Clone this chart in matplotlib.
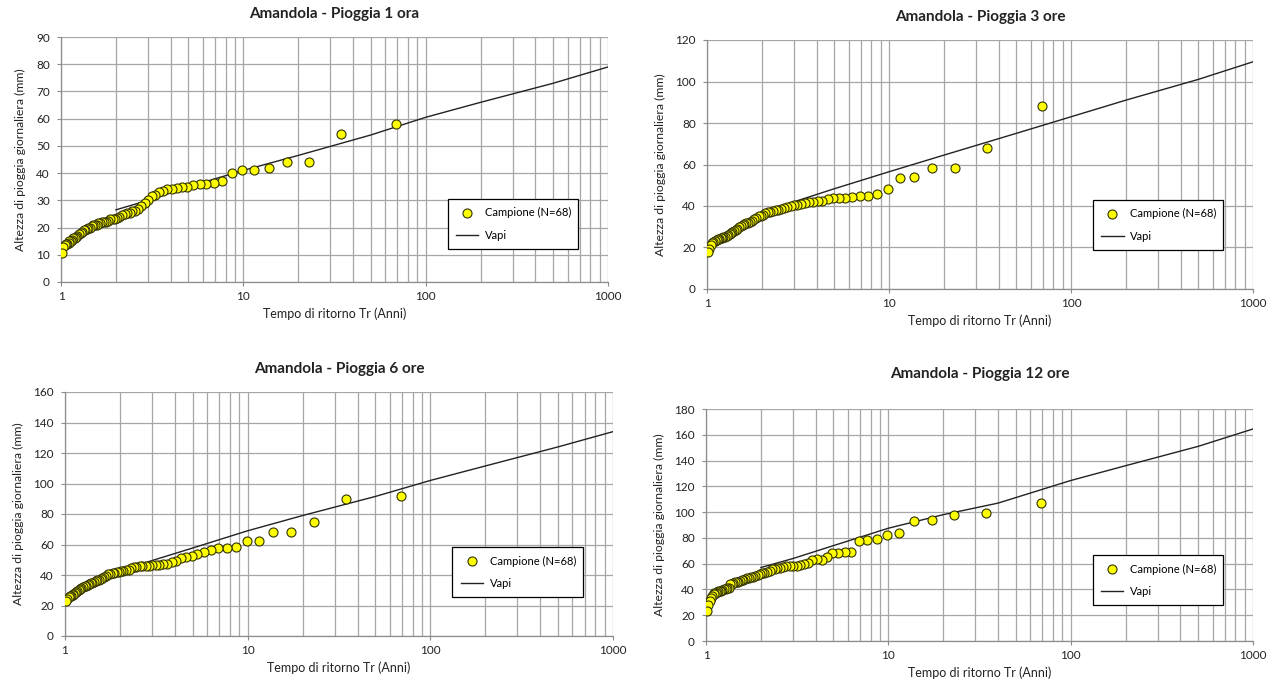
import matplotlib
matplotlib.use("Agg")
import matplotlib.pyplot as plt
from matplotlib.ticker import FixedLocator, FuncFormatter, LogLocator, NullFormatter

plt.rcParams['font.family'] = ['Lato', 'DejaVu Sans']

# Return periods of the 68 ranked samples (years)
tr = [69.0, 34.5, 23.0, 17.25, 13.8, 11.5, 9.86, 8.63, 7.67, 6.9,
      6.27, 5.75, 5.31, 4.93, 4.6, 4.31, 4.06, 3.83, 3.63, 3.45,
      3.29, 3.14, 3.0, 2.88, 2.76, 2.65, 2.56, 2.46, 2.38, 2.3,
      2.23, 2.16, 2.09, 2.03, 1.97, 1.92, 1.86, 1.82, 1.77, 1.73,
      1.68, 1.64, 1.6, 1.57, 1.53, 1.5, 1.47, 1.44, 1.41, 1.38,
      1.35, 1.33, 1.3, 1.28, 1.25, 1.23, 1.21, 1.19, 1.17, 1.15,
      1.13, 1.11, 1.1, 1.08, 1.06, 1.05, 1.03, 1.01]

h1 = [58, 54.5, 44, 44, 42, 41, 41, 40, 37, 36.5,
      36, 36, 35.5, 35, 35, 34.5, 34, 34, 33.5, 33,
      32, 31.5, 30, 29, 28, 27, 26, 26, 25.5, 25.5,
      25, 24.5, 24, 23.5, 23, 23, 23, 22.5, 22, 22,
      22, 21.5, 21.5, 21, 21, 21, 20.5, 20, 20, 19.5,
      19, 19, 18.5, 18, 17.5, 17, 16.5, 16, 16, 15.5,
      15, 15, 14.5, 14, 14, 13.5, 13, 10.5]

h3 = [88, 68, 58.5, 58.5, 54, 53.5, 48, 46, 45, 45,
      44.5, 44, 44, 44, 43.5, 42.5, 42.5, 42, 42, 41.5,
      41, 40.5, 40.5, 40, 39.5, 39, 38.5, 38, 38, 37.5,
      37, 37, 36.5, 35.5, 35, 35, 34, 33.5, 33, 32.5,
      32, 32, 31.5, 31, 30.5, 30, 29, 28.5, 28, 27.5,
      27, 26.5, 26, 25.5, 25, 25, 24.5, 24.5, 24, 24,
      23.5, 23, 23, 22.5, 22, 21, 19.5, 18]

h6 = [91.5, 90, 74.5, 68.5, 68, 62.5, 62.5, 58.5, 58, 58,
      56.5, 55, 53.5, 52.5, 52, 51, 49, 48.5, 47, 47,
      46.5, 46.5, 46.5, 46, 46, 46, 46, 45.5, 45, 44.5,
      43.5, 43, 42.5, 42.5, 42, 42, 41.5, 41, 40.5, 40.5,
      39.5, 38.5, 38, 37.5, 37, 36.5, 36, 35.5, 35, 34.5,
      34, 33.5, 33, 32.5, 32, 31.5, 31, 30, 29.5, 29,
      28, 27.5, 27, 26.5, 26, 25.5, 24.5, 23]

h12 = [107, 99, 98, 94, 93, 83.5, 82.5, 79, 78, 77.5,
       69, 69, 68, 68, 65, 63, 63.5, 63, 60.5, 59.5,
       59, 58.5, 58.5, 58, 58, 57.5, 57, 56.5, 56, 56,
       54, 53.5, 53, 52.5, 52, 51, 50.5, 50, 49.5, 49,
       49, 48, 47.5, 47, 46.5, 46, 46, 45.5, 45, 44.5,
       44, 41.5, 41, 40.5, 40, 39.5, 39, 39, 38.5, 38,
       37.5, 37, 36.5, 35, 33.5, 31, 28, 23]

# VAPI growth curves
vapi_tr = [2, 3, 5, 10, 20, 50, 100, 200, 500, 1000]
vapi1 = [26.5, 30, 35, 41, 46.5, 54, 60.5, 66, 73, 79]
vapi3 = [37.3, 42, 48.3, 56.5, 64.5, 75, 83, 91, 101, 109.5]
vapi6 = [43, 49.5, 57.7, 69, 79, 91.5, 102, 111.5, 124, 134]
vapi12_tr = [2, 3, 5, 10, 20, 40, 100, 200, 500, 1000]
vapi12 = [57, 64, 74, 87.5, 98, 107, 124.5, 136, 151, 164.5]

titles = ["Amandola - Pioggia 1 ora", "Amandola - Pioggia 3 ore",
          "Amandola - Pioggia 6 ore", "Amandola - Pioggia 12 ore"]
ymaxes = [90, 120, 160, 180]
ysteps = [10, 20, 20, 20]

W, H = 1283, 690
fig = plt.figure(figsize=(W / 100, H / 100), dpi=100)

# pixel boxes: left, right, top, bottom
boxes = [(61, 608, 37, 282), (707, 1253, 40, 289),
         (65, 613, 392, 636), (706, 1253, 409, 641)]
legy = [0.135, 0.157, 0.16, 0.155]
tpads = [14, 14, 14, 22]

series = [(h1, vapi_tr, vapi1), (h3, vapi_tr, vapi3),
          (h6, vapi_tr, vapi6), (h12, vapi12_tr, vapi12)]

grid_c = '#a6a6a6'
for i, (l, r, t, b) in enumerate(boxes):
    ax = fig.add_axes([l / W, (H - b) / H, (r - l) / W, (b - t) / H])
    hs, vt, vv = series[i]
    ax.set_xscale('log')
    ax.set_xlim(1, 1000)
    ax.set_ylim(0, ymaxes[i])
    ax.xaxis.set_major_locator(FixedLocator([1, 10, 100, 1000]))
    ax.xaxis.set_minor_locator(LogLocator(base=10, subs=range(2, 10)))
    ax.xaxis.set_major_formatter(FuncFormatter(lambda v, p: f"{v:g}"))
    ax.xaxis.set_minor_formatter(NullFormatter())
    ax.set_yticks(range(0, ymaxes[i] + 1, ysteps[i]))
    ax.grid(True, which='both', axis='x', color=grid_c, linewidth=0.9)
    ax.grid(True, which='major', axis='y', color=grid_c, linewidth=0.9)
    ax.set_axisbelow(True)
    for s in ['top', 'right']:
        ax.spines[s].set_visible(False)
    for s in ['left', 'bottom']:
        ax.spines[s].set_color('#8c8c8c')
        ax.spines[s].set_linewidth(0.9)
    ax.tick_params(which='both', length=3, color='#8c8c8c', labelsize=8.5,
                   labelcolor='#222222')
    ax.tick_params(axis='y', pad=5)
    ax.tick_params(which='minor', length=0)

    ax.plot(vt, vv, color='#222222', linewidth=1.0, label='Vapi', zorder=2)
    ax.plot(tr, hs, linestyle='none', marker='o', markersize=6.5,
            markerfacecolor='#ffff00', markeredgecolor='#333300',
            markeredgewidth=0.8, label='Campione (N=68)', zorder=3)

    ax.set_title(titles[i], fontsize=11, fontweight='bold', pad=tpads[i],
                 color='#222222')
    ax.set_xlabel("Tempo di ritorno Tr (Anni)", fontsize=9, labelpad=4,
                  color='#222222')
    ax.set_ylabel("Altezza di pioggia giornaliera (mm)", fontsize=8.8,
                  labelpad=7, color='#222222')

    hnd, lab = ax.get_legend_handles_labels()
    leg = ax.legend(hnd[::-1], lab[::-1], loc='lower left',
                    bbox_to_anchor=(0.707, legy[i], 0.238, 0.2),
                    mode='expand', fontsize=8, frameon=True, fancybox=False,
                    borderpad=0.75, labelspacing=1.0, handlelength=2.0,
                    handletextpad=0.6, borderaxespad=0)
    leg.get_frame().set_edgecolor('#000000')
    leg.get_frame().set_linewidth(0.9)
    leg.get_frame().set_facecolor('white')
    leg.get_frame().set_alpha(1)

fig.savefig('out.png', dpi=100, facecolor='white')
